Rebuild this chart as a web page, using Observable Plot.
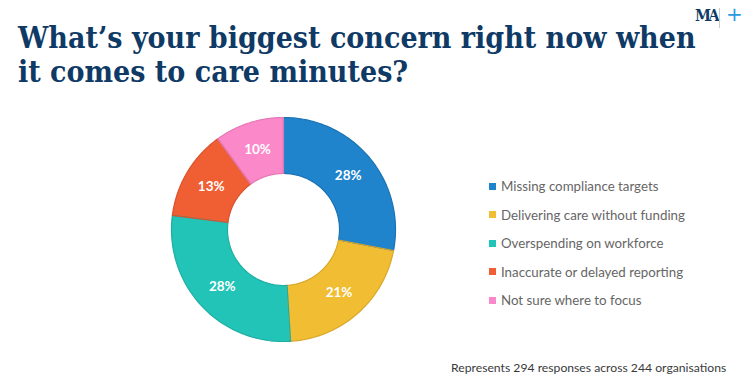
<!DOCTYPE html>
<html>
<head>
<meta charset="utf-8">
<script src="https://cdn.jsdelivr.net/npm/d3@7"></script>
<script src="https://cdn.jsdelivr.net/npm/@observablehq/plot@0.6"></script>
<style>
  html, body { margin: 0; padding: 0; background: #fff; }
  #wrap { position: relative; width: 749px; height: 379px; overflow: hidden; }
  #chart { position: absolute; left: 0; top: 0; }
  #title { position: absolute; left: 18px; top: 21px; font-family: "DejaVu Serif Condensed", "DejaVu Serif", serif; font-weight: bold;
           font-size: 30px; line-height: 34px; color: #0f3a66; letter-spacing: 0px; white-space: nowrap; }
  #legend { position: absolute; left: 489px; top: 172px; font-family: Lato, sans-serif; font-size: 13.3px; color: #666; }
  .row { height: 28.5px; display: flex; align-items: center; }
  .sw { width: 7px; height: 7px; margin-right: 5px; }
  #foot { position: absolute; left: 451px; top: 360px; font-family: Lato, sans-serif; font-size: 12.2px; color: #3a3a3a; white-space: nowrap; }
  #logo { position: absolute; left: 695px; top: 8px; font-family: "DejaVu Serif Condensed", "DejaVu Serif", serif; font-weight: bold; font-size: 16px; line-height: 16px; color: #0f3a66; letter-spacing: -2.5px; white-space: nowrap; }
  #sep { position: absolute; left: 719px; top: 8px; width: 1px; height: 20px; background: #ccc; }
  #plus { position: absolute; left: 726px; top: 4px; color: #2b9be0; font-family: "DejaVu Sans", sans-serif; font-size: 20px; line-height: 20px; }
</style>
</head>
<body>
<div id="wrap">
  <div id="chart"></div>
  <div id="title">What’s your biggest concern right now when<br>it comes to care minutes?</div>
  <div id="logo">MA</div><div id="sep"></div><div id="plus">+</div>
  <div id="legend"></div>
  <div id="foot">Represents 294 responses across 244 organisations</div>
</div>
<script>
const categories = [
  "Missing compliance targets",
  "Delivering care without funding",
  "Overspending on workforce",
  "Inaccurate or delayed reporting",
  "Not sure where to focus"
];
const values = [28, 21, 28, 13, 10];
const colors = ["#1f84cc", "#f0bd33", "#22c4b8", "#f05e33", "#fb88c9"];
const strokes = ["#1a73b3", "#d9a82a", "#1eaea3", "#d9522b", "#e577b4"];

const inner = 0.5, outer = 1;
const total = d3.sum(values);
const pie = d3.pie().sort(null).value(d => d)(values);

// polygon vertices for each slice in unit coordinates (angle 0 = 12 o'clock, clockwise)
const poly = [];
const labels = [];
pie.forEach((p, i) => {
  const n = 80;
  for (let k = 0; k <= n; k++) {
    const a = p.startAngle + (p.endAngle - p.startAngle) * k / n;
    poly.push({cat: categories[i], x: outer * Math.sin(a), y: outer * Math.cos(a)});
  }
  for (let k = n; k >= 0; k--) {
    const a = p.startAngle + (p.endAngle - p.startAngle) * k / n;
    poly.push({cat: categories[i], x: inner * Math.sin(a), y: inner * Math.cos(a)});
  }
  const m = (p.startAngle + p.endAngle) / 2, r = (inner + outer) / 2;
  labels.push({cat: categories[i], x: r * Math.sin(m), y: r * Math.cos(m), text: Math.round(values[i] / total * 100) + "%"});
});

const chart = Plot.plot({
  width: 749,
  height: 379,
  margin: 0,
  x: {domain: [-1, 1], range: [171, 395], axis: null},
  y: {domain: [-1, 1], range: [341, 117], axis: null},
  color: {domain: categories, range: colors},
  marks: [
    Plot.line(poly, {x: "x", y: "y", z: "cat", fill: "cat", curve: "linear-closed", strokeWidth: 0}),
    Plot.line(poly, {x: "x", y: "y", z: "cat", stroke: d => strokes[categories.indexOf(d.cat)], curve: "linear-closed", strokeWidth: 1.2}),
    Plot.text(labels, {x: "x", y: "y", text: "text", fill: "white", fontSize: 13.5, fontWeight: "bold", fontFamily: "Lato, sans-serif"})
  ]
});
document.getElementById("chart").appendChild(chart);

const lg = document.getElementById("legend");
categories.forEach((c, i) => {
  const row = document.createElement("div");
  row.className = "row";
  const sw = document.createElement("span");
  sw.className = "sw";
  sw.style.background = colors[i];
  const t = document.createElement("span");
  t.textContent = c;
  row.appendChild(sw);
  row.appendChild(t);
  lg.appendChild(row);
});
</script>
</body>
</html>
